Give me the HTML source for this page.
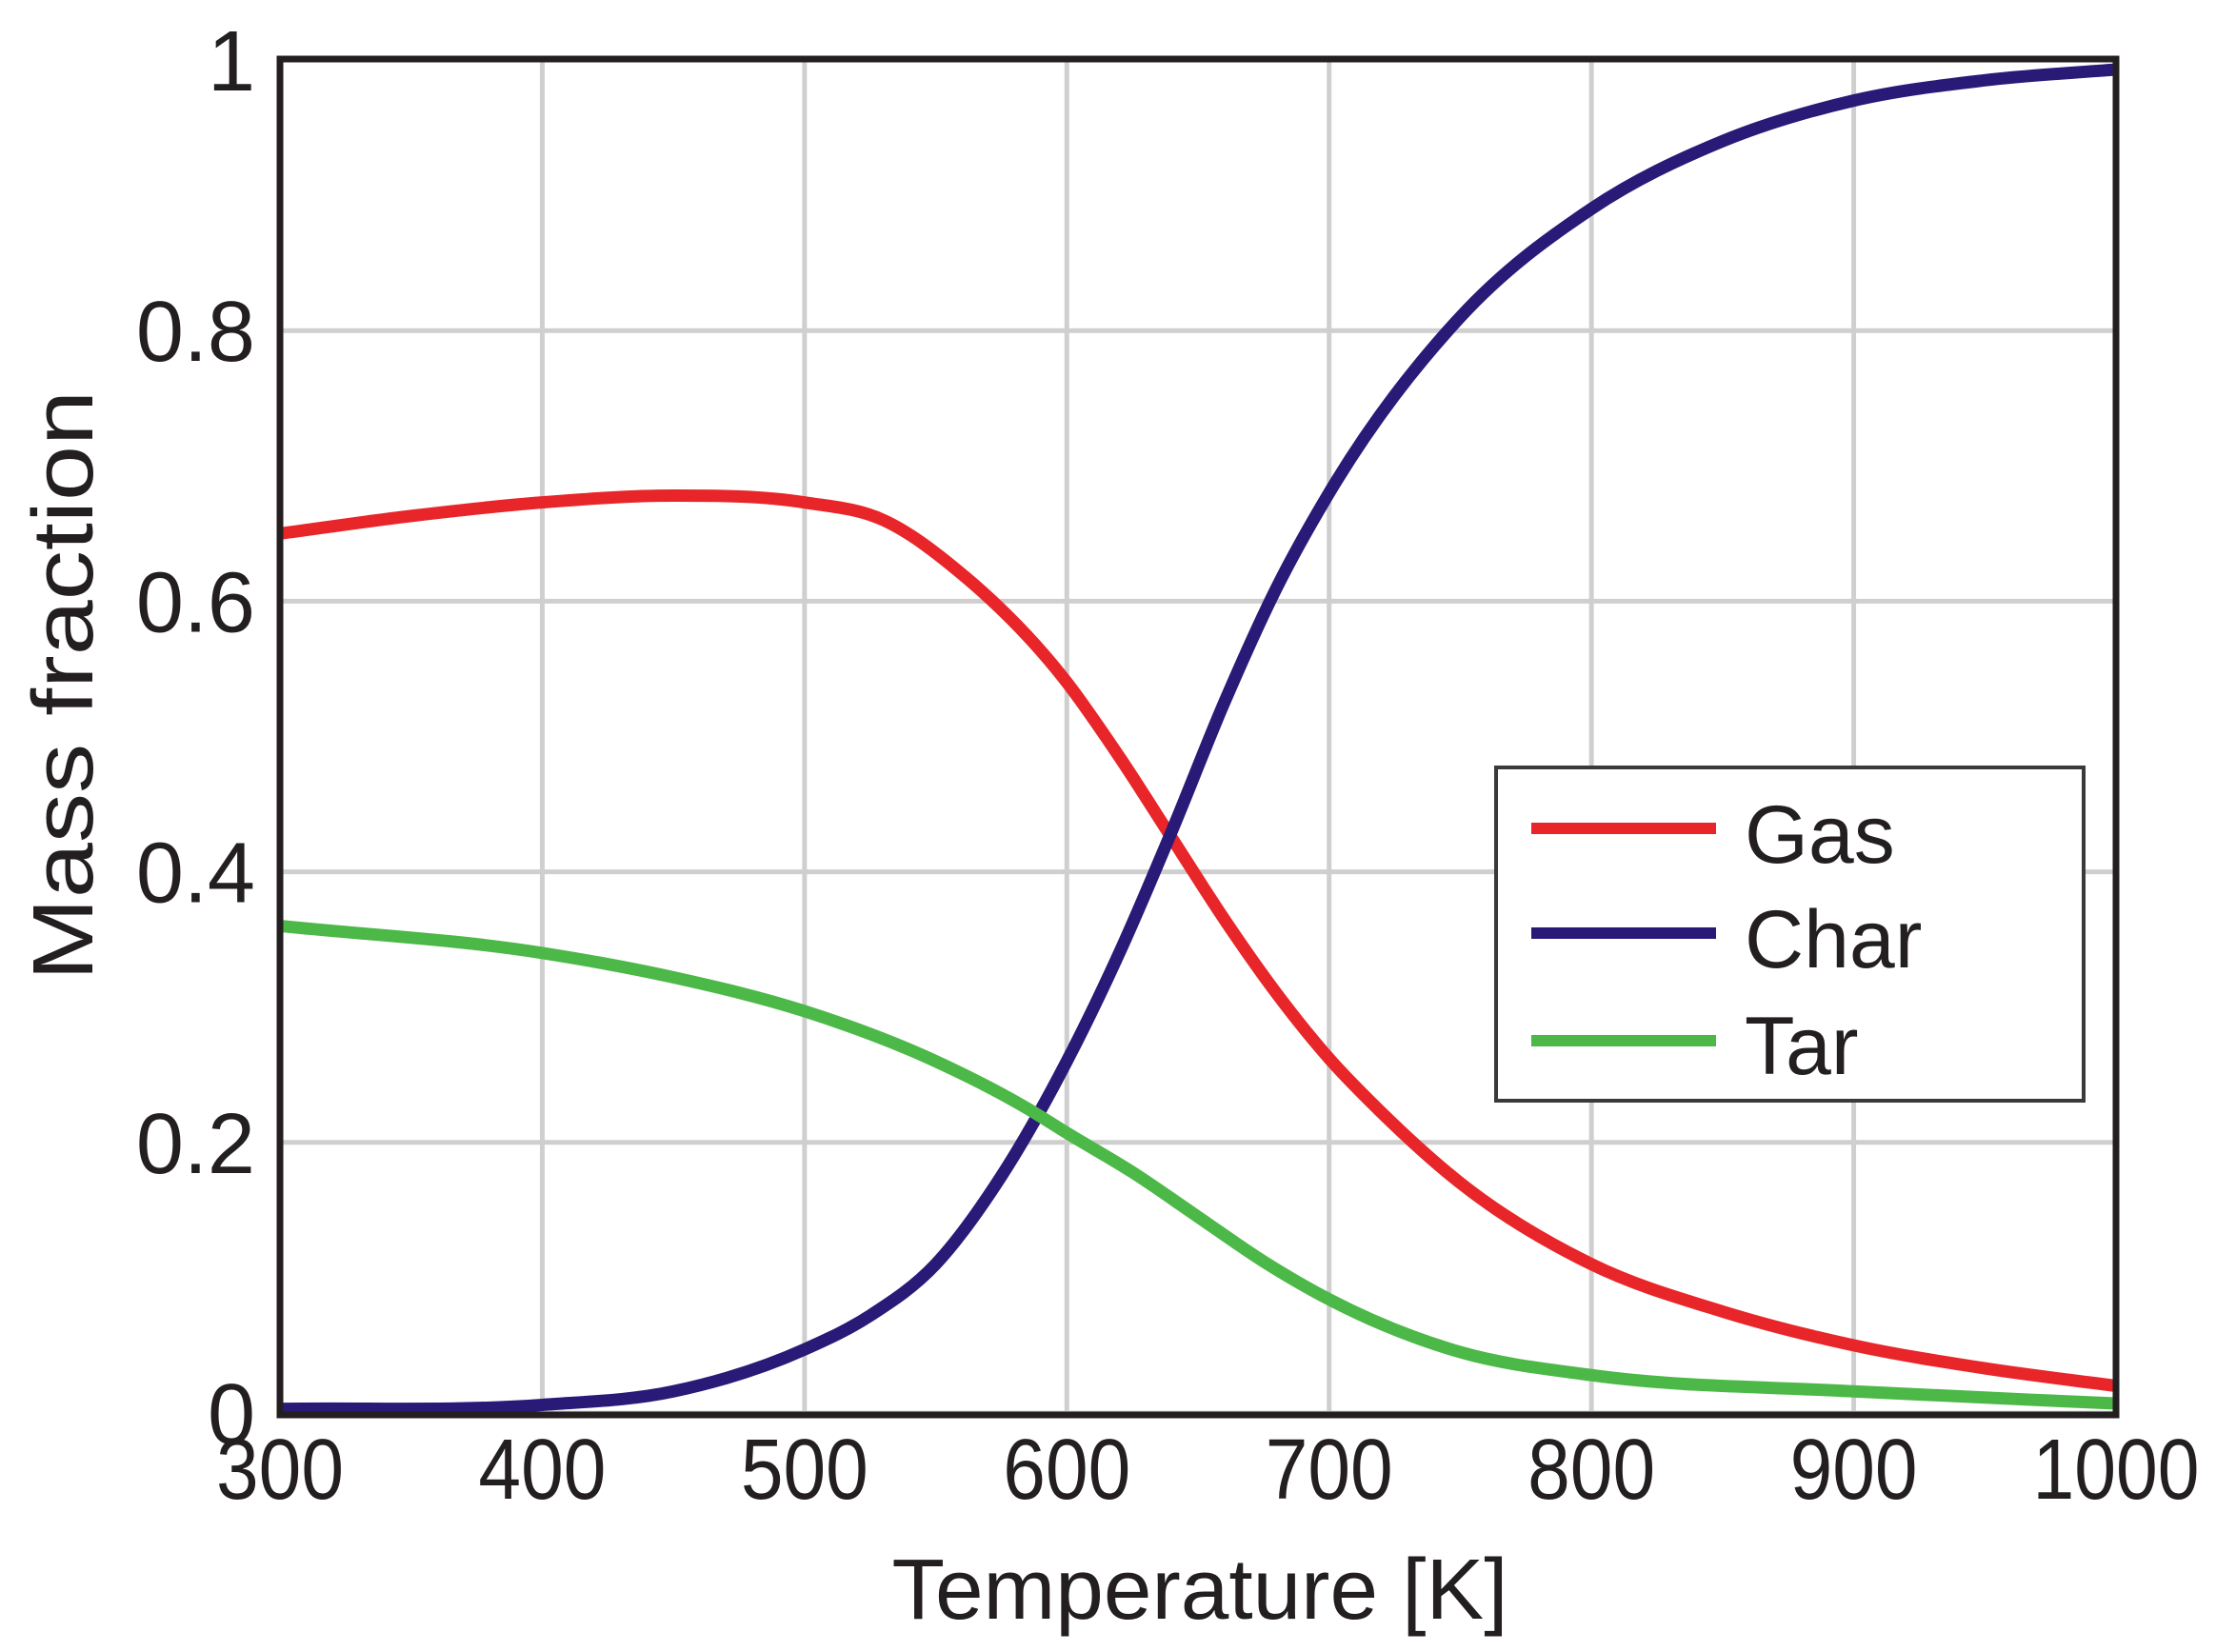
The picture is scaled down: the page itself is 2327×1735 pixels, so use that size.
<!DOCTYPE html>
<html><head><meta charset="utf-8"><style>html,body{margin:0;padding:0;background:#fff}svg{display:block}</style></head>
<body>
<svg id="s" width="2327" height="1735" viewBox="0 0 2327 1735" xmlns="http://www.w3.org/2000/svg" font-family="Liberation Sans, Arial, sans-serif">
<g id="grid" stroke="#cfcfcf" stroke-width="5"></g>
<g id="curves" fill="none" stroke-width="13" stroke-linecap="butt" stroke-linejoin="round"></g>
<rect x="294" y="62" width="1928" height="1424" fill="none" stroke="#231f20" stroke-width="7"/>
<g id="ticks" font-size="90" fill="#231f20"></g>
<text x="1260" y="1700" font-size="90" text-anchor="middle" textLength="647" lengthAdjust="spacingAndGlyphs" fill="#231f20">Temperature [K]</text>
<text transform="translate(97,720) rotate(-90)" font-size="90" text-anchor="middle" textLength="620" lengthAdjust="spacingAndGlyphs" fill="#231f20">Mass fraction</text>
<rect x="1571" y="806" width="617" height="350" fill="#fff" stroke="#3a3a3a" stroke-width="4"/>
<line x1="1608" y1="870" x2="1802" y2="870" stroke="#e8262a" stroke-width="12"/>
<line x1="1608" y1="980" x2="1802" y2="980" stroke="#2a1a78" stroke-width="12"/>
<line x1="1608" y1="1093" x2="1802" y2="1093" stroke="#4cb848" stroke-width="12"/>
<g font-size="86" fill="#231f20">
<text x="1832" y="906">Gas</text>
<text x="1832" y="1016">Char</text>
<text x="1832" y="1128">Tar</text>
</g>
</svg>
<script>
var NS="http://www.w3.org/2000/svg";
function X(t){return 294+(t-300)/700*1928;}
function Y(v){return 1484-v*1421;}
var g=document.getElementById('grid'),tk=document.getElementById('ticks');
for(var t=300;t<=1000;t+=100){var l=document.createElementNS(NS,'line');l.setAttribute('x1',X(t));l.setAttribute('x2',X(t));l.setAttribute('y1',62);l.setAttribute('y2',1486);g.appendChild(l);
var tx=document.createElementNS(NS,'text');tx.setAttribute('x',X(t));tx.setAttribute('y',1574);tx.setAttribute('text-anchor','middle');tx.setAttribute('textLength',t==1000?175:134);tx.setAttribute('lengthAdjust','spacingAndGlyphs');tx.textContent=t;tk.appendChild(tx);}
var yl=['0','0.2','0.4','0.6','0.8','1'];
for(var i=0;i<=5;i++){var v=i*0.2;var l=document.createElementNS(NS,'line');l.setAttribute('x1',294);l.setAttribute('x2',2222);l.setAttribute('y1',Y(v));l.setAttribute('y2',Y(v));g.appendChild(l);
var tx=document.createElementNS(NS,'text');tx.setAttribute('x',268);tx.setAttribute('y',Y(v)+32);tx.setAttribute('text-anchor','end');tx.textContent=yl[i];tk.appendChild(tx);}
var data={
"#e8262a":[[300,0.65],[350,0.663],[400,0.673],[450,0.678],[500,0.673],[530,0.66],[560,0.62],[600,0.54],[620,0.485],[640,0.425],[660,0.365],[680,0.31],[700,0.262],[720,0.222],[750,0.17],[800,0.11],[850,0.075],[900,0.05],[950,0.033],[1000,0.02]],
"#2a1a78":[[300,0.003],[400,0.006],[450,0.016],[500,0.047],[525,0.072],[550,0.11],[575,0.175],[600,0.26],[620,0.34],[640,0.43],[660,0.525],[680,0.61],[700,0.68],[750,0.81],[800,0.89],[850,0.94],[900,0.97],[950,0.985],[1000,0.993]],
"#4cb848":[[300,0.36],[400,0.34],[450,0.322],[500,0.297],[550,0.26],[585,0.225],[600,0.207],[625,0.178],[650,0.145],[675,0.112],[700,0.084],[750,0.045],[800,0.028],[900,0.016],[1000,0.007]]};
var cg=document.getElementById('curves');
for(var c in data){var p=data[c].map(function(a){return [X(a[0]),Y(a[1])];});
var n=p.length,s=[],m=[];
for(var i=0;i<n-1;i++)s.push((p[i+1][1]-p[i][1])/(p[i+1][0]-p[i][0]));
m[0]=s[0];m[n-1]=s[n-2];
for(var i=1;i<n-1;i++){var h0=p[i][0]-p[i-1][0],h1=p[i+1][0]-p[i][0];
if(s[i-1]*s[i]<=0)m[i]=(s[i-1]+s[i])/2*0.5;else m[i]=(s[i-1]*h1+s[i]*h0)/(h0+h1);}
var d='M'+p[0][0]+','+p[0][1];
for(var i=0;i<n-1;i++){var h=(p[i+1][0]-p[i][0])/3;
d+=' C'+(p[i][0]+h)+','+(p[i][1]+m[i]*h)+' '+(p[i+1][0]-h)+','+(p[i+1][1]-m[i+1]*h)+' '+p[i+1][0]+','+p[i+1][1];}
var pa=document.createElementNS(NS,'path');pa.setAttribute('d',d);pa.setAttribute('stroke',c);cg.appendChild(pa);}
</script>
</body></html>
